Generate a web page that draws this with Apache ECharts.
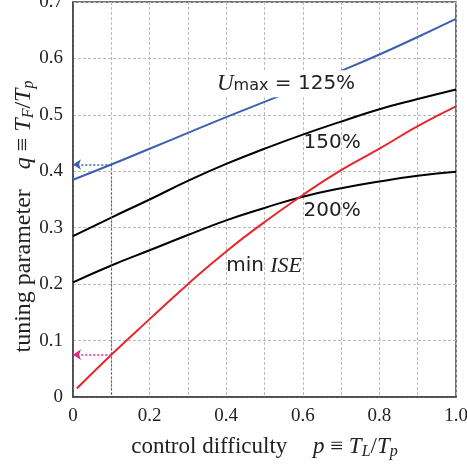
<!DOCTYPE html>
<html>
<head>
<meta charset="utf-8">
<script src="https://cdn.jsdelivr.net/npm/echarts@6/dist/echarts.min.js"></script>
<style>
html,body{margin:0;padding:0;background:#fff}
#chart{width:467px;height:465px}
</style>
</head>
<body>
<div id="chart"></div>
<script>
// control difficulty p (x) and tuning parameter q (y)
var pGrid = [0, 0.1, 0.2, 0.3, 0.4, 0.5, 0.6, 0.7, 0.8, 0.9, 1.0];
var qU125 = [0.385, 0.412, 0.44, 0.468, 0.496, 0.523, 0.55, 0.578, 0.607, 0.638, 0.67];
var qU150 = [0.285, 0.318, 0.35, 0.383, 0.413, 0.44, 0.465, 0.488, 0.51, 0.528, 0.545];
var qU200 = [0.203, 0.233, 0.26, 0.287, 0.313, 0.335, 0.355, 0.37, 0.382, 0.392, 0.399];
var pISE = [0.01, 0.1, 0.2, 0.3, 0.4, 0.5, 0.6, 0.7, 0.8, 0.9, 1.0];
var qISE = [0.015, 0.075, 0.138, 0.2, 0.258, 0.31, 0.358, 0.402, 0.44, 0.48, 0.515];

// read-off example at p = 0.1
var pRead = 0.1;
var qRead125 = 0.412;
var qReadISE = 0.075;

var xTicks = ['0', '0.2', '0.4', '0.6', '0.8', '1.0'];
var yTicks = ['0', '0.1', '0.2', '0.3', '0.4', '0.5', '0.6', '0.7'];

function pairs(xs, ys){
	return xs.map(function(x, i){ return [x, ys[i]]; });
}

var serif = '"Liberation Serif", "DejaVu Serif", serif';
var sans = '"DejaVu Sans", sans-serif';
function mathRich(fs){
	return {
		t: {fontFamily: serif, fontSize: fs, color: '#222'},
		i: {fontFamily: serif, fontStyle: 'italic', fontSize: fs, color: '#222'},
		sub: {fontFamily: serif, fontStyle: 'italic', fontSize: Math.round(fs * 0.68), color: '#222',
			padding: [Math.round(fs * 0.45), 0, 0, 0]},
		s: {fontSize: fs}
	};
}

var blue = '#3d5fb2';
var red = '#e8262b';
var pink = '#e4287c';

var myChart = echarts.init(document.getElementById('chart'));
var option = {
	animation: false,
	grid: {
		left: 73, right: 11, top: 2, bottom: 68,
		outerBoundsMode: 'none',
		show: true, borderColor: '#444', borderWidth: 1.5
	},
	xAxis: {
		type: 'value', min: 0, max: 1, interval: 0.1,
		name: '{t|control difficulty}{s|    }{i|p}{t| ≡ }{i|T}{sub|L}{t|/}{i|T}{sub|p}',
		nameLocation: 'middle', nameGap: 37, nameMoveOverlap: false,
		nameTextStyle: {rich: mathRich(23)},
		axisLine: {lineStyle: {color: '#444', width: 1.5}},
		axisTick: {show: false},
		splitLine: {lineStyle: {color: '#bbb', type: [3, 2], width: 1}},
		axisLabel: {
			fontFamily: serif, fontSize: 19, color: '#222', margin: 10,
			formatter: function(v){
				var k = Math.round(v * 10);
				return k % 2 === 0 ? xTicks[k / 2] : '';
			}
		}
	},
	yAxis: {
		type: 'value', min: 0, max: 0.7, interval: 0.1,
		name: '{t|tuning parameter}{s|   }{i|q}{t| ≡ }{i|T}{sub|F}{t|/}{i|T}{sub|p}',
		nameLocation: 'middle', nameGap: 36, nameRotate: 90, nameMoveOverlap: false,
		nameTextStyle: {rich: mathRich(24), padding: [0, 34, 0, 0]},
		axisLine: {lineStyle: {color: '#444', width: 1.5}},
		axisTick: {show: false},
		splitLine: {lineStyle: {color: '#bbb', type: [3, 2], width: 1}},
		axisLabel: {
			fontFamily: serif, fontSize: 19, color: '#222', margin: 10,
			formatter: function(v){ return yTicks[Math.round(v * 10)]; }
		}
	},
	series: [
		{
			name: '125%', type: 'line', smooth: true, showSymbol: false,
			data: pairs(pGrid, qU125),
			lineStyle: {color: blue, width: 2}, itemStyle: {color: blue},
			markLine: {
				silent: true, symbol: ['none', 'arrow'], symbolSize: 8,
				label: {show: false},
				lineStyle: {color: blue, type: [2, 2], width: 1.5},
				data: [[{coord: [pRead, qRead125]}, {coord: [0, qRead125]}]]
			},
			markPoint: {
				symbolSize: 0, z: 10,
				data: [{
					coord: [0.376, 0.555],
					label: {
						show: true, position: 'right', distance: 0,
						backgroundColor: '#fff', padding: [2, 2, 2, 0],
						formatter: '{u|U}{m|max}{n| = 125%}',
						rich: {
							u: {fontFamily: serif, fontStyle: 'italic', fontSize: 23, color: '#222'},
							m: {fontFamily: sans, fontSize: 16, color: '#222', padding: [5, 0, 0, 0]},
							n: {fontFamily: sans, fontSize: 20, color: '#222'}
						}
					}
				}]
			}
		},
		{
			name: '150%', type: 'line', smooth: true, showSymbol: false,
			data: pairs(pGrid, qU150),
			lineStyle: {color: '#000', width: 2}, itemStyle: {color: '#000'},
			markPoint: {
				symbolSize: 0,
				data: [{
					coord: [0.602, 0.45],
					label: {show: true, position: 'right', distance: 0, formatter: '150%',
						fontFamily: sans, fontSize: 20, color: '#222'}
				}]
			}
		},
		{
			name: '200%', type: 'line', smooth: true, showSymbol: false,
			data: pairs(pGrid, qU200),
			lineStyle: {color: '#000', width: 2}, itemStyle: {color: '#000'},
			markPoint: {
				symbolSize: 0,
				data: [{
					coord: [0.602, 0.33],
					label: {show: true, position: 'right', distance: 0, formatter: '200%',
						fontFamily: sans, fontSize: 20, color: '#222'}
				}]
			}
		},
		{
			name: 'min ISE', type: 'line', smooth: true, showSymbol: false,
			data: pairs(pISE, qISE),
			lineStyle: {color: red, width: 2}, itemStyle: {color: red},
			markLine: {
				silent: true, symbolSize: 8,
				label: {show: false},
				data: [
					[{coord: [pRead, qReadISE], symbol: 'none'}, {coord: [0, qReadISE], symbol: 'arrow',
						lineStyle: {color: pink, type: [2, 2], width: 1.5}}],
					[{coord: [pRead, qRead125], symbol: 'none'}, {coord: [pRead, 0], symbol: 'none',
						lineStyle: {color: '#555', type: [2, 2], width: 1.2}}]
				]
			},
			markPoint: {
				symbolSize: 0,
				data: [{
					coord: [0.4, 0.232],
					label: {
						show: true, position: 'right', distance: 0,
						formatter: '{m|min }{i|ISE}',
						rich: {
							m: {fontFamily: sans, fontSize: 20, color: '#222'},
							i: {fontFamily: serif, fontStyle: 'italic', fontSize: 22, color: '#222'}
						}
					}
				}]
			}
		}
	]
};
myChart.setOption(option);
</script>
</body>
</html>
